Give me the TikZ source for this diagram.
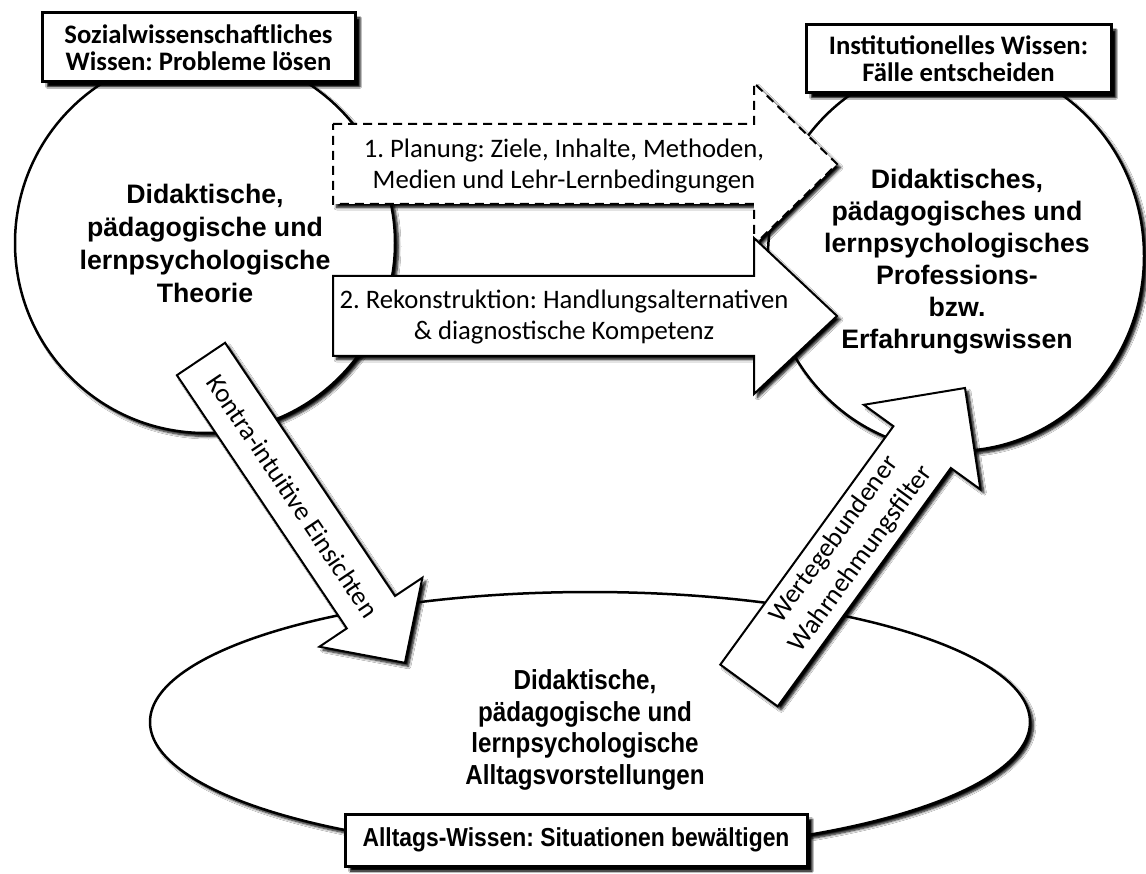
\documentclass[tikz,border=0pt]{standalone}
\usepackage{fontspec}
\setmainfont{Carlito}
\newfontfamily\arialfont{Liberation Sans}
\newfontfamily\narrowfont{Liberation Sans}[FakeStretch=0.88]
\usetikzlibrary{shapes.geometric,shadows.blur}
\frenchspacing
\tikzset{
  every node/.style={inner sep=0pt},
  softshadow/.style={blur shadow={shadow xshift=3.5pt, shadow yshift=-3.5pt, shadow blur radius=2.5pt, shadow blur steps=6, shadow opacity=100}},
  boxshadow/.style={blur shadow={shadow xshift=5pt, shadow yshift=-5pt, shadow blur radius=1.5pt, shadow blur steps=4, shadow opacity=100}},
  bigshape/.style={draw, line width=2.5pt, fill=white, softshadow},
  labelbox/.style={draw, line width=3pt, fill=white, boxshadow, align=center,
    font=\bfseries\fontsize{26.7}{27}\selectfont},
  circtext/.style={align=center, font=\arialfont\bfseries\fontsize{26.7}{33}\selectfont},
  ovaltext/.style={align=center, font=\narrowfont\bfseries\fontsize{27.5}{31.5}\selectfont},
  blockarrow/.style={draw, line width=2pt, fill=white, line join=miter, softshadow},
  arrowtext/.style={align=center, font=\fontsize{26.7}{31}\selectfont},
}
\begin{document}
\begin{tikzpicture}[x=1pt, y=-1pt]
\fill[white] (0,0) rectangle (1146,874);
\useasboundingbox (0,0) rectangle (1146,874);

% large shapes
\node[circle, bigshape, minimum size=380pt] (lc) at (205,243) {};
\node[ellipse, bigshape, minimum width=376pt, minimum height=390pt] (rc) at (956,256) {};
\node[ellipse, bigshape, minimum width=880pt, minimum height=260pt] (bc) at (590,722) {};

\node[circtext] (lct) at (205,243) {Didaktische,\\pädagogische und\\lernpsychologische\\Theorie};
\node[circtext, font=\arialfont\bfseries\fontsize{26.7}{32}\selectfont] (rct) at (957,262) {Didaktisches,\\pädagogisches und\\lernpsychologisches\\Professions-\\bzw.\\Erfahrungswissen};
\node[ovaltext] (bct) at (585,730) {Didaktische,\\pädagogische und\\lernpsychologische\\Alltagsvorstellungen};

% block arrows
\path[blockarrow, dash pattern=on 9pt off 6pt]
  (333,124) -- (754,124) -- (754,83) -- (837,164) -- (754,245) -- (754,204) -- (333,204) -- cycle;
\node[arrowtext] (pt) at (564,166) {1. Planung: Ziele, Inhalte, Methoden,\\Medien und Lehr-Lernbedingungen};

\path[blockarrow]
  (333,276) -- (754,276) -- (754,238) -- (837,316) -- (754,394) -- (754,356) -- (333,356) -- cycle;
\node[arrowtext] (rt) at (564,317) {2. Rekonstruktion: Handlungsalternativen\\\& diagnostische Kompetenz};

\path[blockarrow]
  (225.1,342.8) -- (395.0,596.0) -- (422.4,577.7) -- (404.9,662.8) -- (319.4,646.7) -- (346.8,628.4) -- (176.9,375.2) -- cycle;
\node[arrowtext, rotate=-56.1] (kt) at (292.9,496) {Kontra-intuitive Einsichten};

\path[blockarrow]
  (720.3,664.6) -- (893.4,426.2) -- (863.8,404.8) -- (965,388) -- (980.4,489.4) -- (950.8,468.0) -- (777.7,706.4) -- cycle;
\node[arrowtext, font=\fontsize{26.7}{33}\selectfont, rotate=54] (wt) at (847.7,549.5) {Wertegebundener\\Wahrnehmungsfilter};

% label boxes
\node[labelbox, minimum width=313pt, minimum height=69pt] (lb) at (198.5,47.5) {Sozialwissenschaftliches\\Wissen: Probleme lösen};
\node[labelbox, minimum width=305pt, minimum height=68pt] (rb) at (958.5,59) {Institutionelles Wissen:\\Fälle entscheiden};
\node[labelbox, minimum width=462pt, minimum height=52pt, font=\narrowfont\bfseries\fontsize{26}{27}\selectfont] (bb) at (576,840) {Alltags-Wissen: Situationen bewältigen};
\end{tikzpicture}
\end{document}
